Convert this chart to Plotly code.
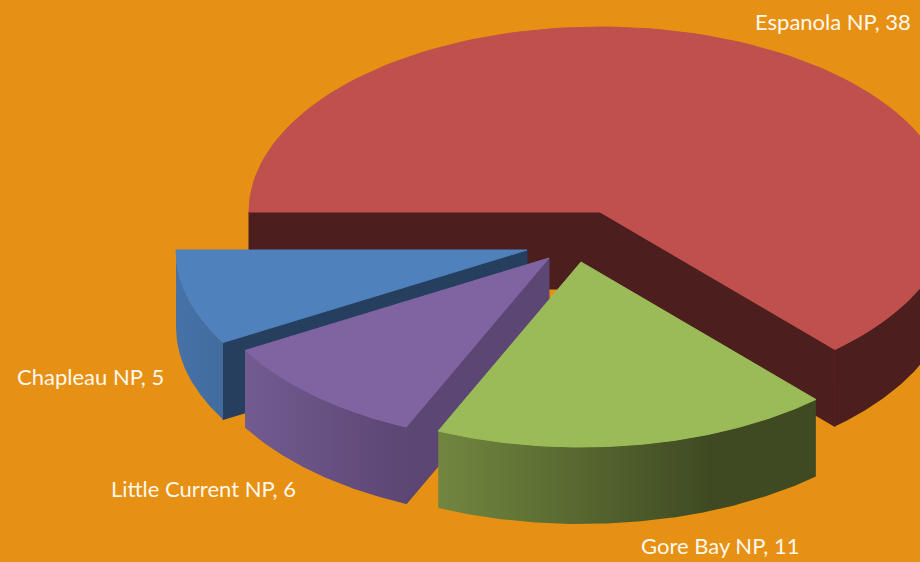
import numpy as np
import plotly.graph_objects as go

categories = ["Chapleau NP", "Little Current NP", "Gore Bay NP", "Espanola NP"]
values = [5, 6, 11, 38]

# drawing style: apex of each exploded slice, ellipse radii and extrusion depth
apex_x = [527, 549, 581, 600]
apex_y = [250, 258, 262, 212]
RX, RY, DEPTH = 351, 185, 77
BG = "#E69014"
top_colors = ["#4F81BD", "#8064A2", "#9BBB59", "#C0504D"]
face_colors = ["#263F5E", "#5C4674", "#3F4A22", "#4D1E1E"]
wall_left = ["#4672A8", "#725B90", "#71873F", "#4D1E1E"]
wall_right = ["#426C9E", "#5C4674", "#3F4A22", "#4D1E1E"]
wall_grad_stop = [0.0, 0.0, 0.72, 0.0]
label_x = [90, 203, 720, 833]
label_y = [376, 488, 545, 21]

fig = go.Figure()


def poly(xs, ys, color=None, gradient=None):
    if gradient:
        kw = dict(fillgradient=gradient, line=dict(width=0))
    else:
        kw = dict(fillcolor=color, line=dict(width=1, color=color))
    fig.add_trace(go.Scatter(x=list(xs), y=list(ys), mode="lines", fill="toself",
                             hoverinfo="skip", showlegend=False, **kw))


def arc(cx, cy, t0, t1):
    t = np.radians(np.linspace(t0, t1, 120))
    return cx + RX * np.cos(t), cy + RY * np.sin(t)


def extrude_edge(cx, cy, t, color):
    px = cx + RX * np.cos(np.radians(t))
    py = cy + RY * np.sin(np.radians(t))
    poly([cx, px, px, cx, cx], [cy, py, py + DEPTH, cy + DEPTH, cy], color)


total = sum(values)
sweeps = [v / total * 360 for v in values]
starts = [180 - s for s in np.concatenate(([0], np.cumsum(sweeps)[:-1]))]
order = [3, 0, 1, 2]  # back to front

for i in order:
    cx, cy = apex_x[i], apex_y[i]
    t0 = starts[i]
    t1 = t0 - sweeps[i]
    # cut faces
    if i == 3:
        extrude_edge(cx, cy, t0, face_colors[i])
        extrude_edge(cx, cy, t1 + 360, face_colors[i])
    elif i != 2:
        extrude_edge(cx, cy, t1, face_colors[i])
    # outer wall (only the part facing the viewer)
    a, b = min(t0, 180), max(t1, 0)
    ax, ay = arc(cx, cy, a, b)
    wx = np.concatenate((ax, ax[::-1], ax[:1]))
    wy = np.concatenate((ay, ay[::-1] + DEPTH, ay[:1]))
    stops = [[0, wall_left[i]], [1, wall_right[i]]]
    if wall_grad_stop[i] > 0:
        stops = [[0, wall_left[i]], [wall_grad_stop[i], wall_right[i]], [1, wall_right[i]]]
    poly(wx, wy, gradient=dict(type="horizontal", colorscale=stops))
    # top
    tx, ty = arc(cx, cy, t0, t1)
    poly(np.concatenate(([cx], tx, [cx])), np.concatenate(([cy], ty, [cy])), top_colors[i])

annotations = [
    dict(x=label_x[i], y=label_y[i], text=f"{categories[i]}, {values[i]}", showarrow=False,
         xanchor="center", yanchor="middle", font=dict(family="Lato", size=22, color="#FFF8EC"))
    for i in range(len(values))
]

fig.update_layout(
    width=920, height=562, margin=dict(l=0, r=0, t=0, b=0),
    paper_bgcolor=BG, plot_bgcolor=BG, showlegend=False, annotations=annotations,
    xaxis=dict(range=[0, 920], visible=False, fixedrange=True),
    yaxis=dict(range=[562, 0], visible=False, fixedrange=True),
)
fig.write_html("out.html", post_script="document.body.style.margin='0';document.documentElement.style.background='" + BG + "';",
               config={"displayModeBar": False})
